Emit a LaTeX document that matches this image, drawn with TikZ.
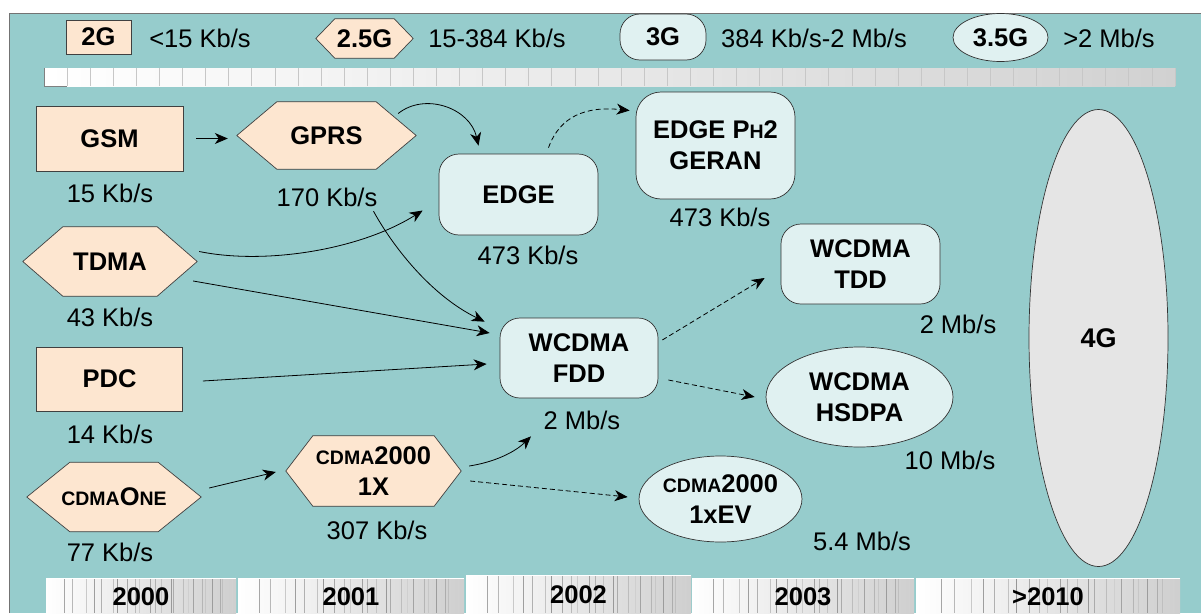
\documentclass[tikz,border=0pt]{standalone}
\usepackage{fontspec}
\setmainfont{Liberation Sans}
\usetikzlibrary{arrows.meta,calc,shapes.geometric}
\definecolor{teal0}{RGB}{150,204,204}
\definecolor{peach}{RGB}{253,230,208}
\definecolor{ice}{RGB}{224,241,241}
\definecolor{ltgray}{RGB}{229,229,229}
\pgfdeclarelayer{bg}
\pgfdeclarelayer{shp}
\pgfsetlayers{bg,shp,main}
\newcommand\smc[1]{{\fontsize{19.5}{20}\selectfont #1}}
\tikzset{
  base/.style={font=\fontsize{25.5}{31}\selectfont, inner sep=0pt, align=center},
  lbl/.style={base, font=\bfseries\fontsize{25.5}{31}\selectfont},
  rectn/.style={lbl, draw=black!75, fill=peach, line width=0.7pt},
  rbox/.style={lbl, draw=black!80, fill=ice, line width=0.7pt, rounded corners=20pt},
  ell/.style={lbl, draw=black!80, fill=ice, line width=0.7pt, ellipse},
  hexn/.style={lbl},
  hexline/.style={draw=black!75, fill=peach, line width=0.7pt},
  arr/.style={-{Stealth[length=13pt,width=11pt,inset=4pt]}, line width=0.8pt, black},
  darr/.style={arr, dash pattern=on 5pt off 3pt},
}
\newcommand\hexshape[2]{%
  \begin{pgfonlayer}{shp}
  \draw[hexline] (#1.west) -- ($(#1.north west)+(#2,0)$) -- ($(#1.north east)+(-#2,0)$)
    -- (#1.east) -- ($(#1.south east)+(-#2,0)$) -- ($(#1.south west)+(#2,0)$) -- cycle;
  \end{pgfonlayer}}
\newcommand\yearseg[5]{%
  \begin{pgfonlayer}{shp}
  \shade[left color=white, right color=black!19] (#2,#4) rectangle (#3,613);
  \foreach \i in {1,...,24}{%
    \pgfmathsetmacro\sx{#2+(#3-#2)*(\i/25)^0.75+2*sin(\i*137)}
    \pgfmathsetmacro\sgray{int(18+mod(\i*17,24))}
    \draw[black!\sgray, line width=0.5pt] (\sx,#4) -- (\sx,613);
  }
  \draw[white, line width=0.8pt] (#2,613) -- (#2,#4) -- (#3,#4);
  \end{pgfonlayer}
  \node[lbl] (#1) at ({(#2+#3)/2},{(#4+613)/2+1}) {#5};
}
\begin{document}
\begin{tikzpicture}[x=1pt,y=-1pt]
\useasboundingbox (0,0) rectangle (1201,613);
\begin{pgfonlayer}{bg}
\fill[white] (0,0) rectangle (1201,613);
\fill[teal0] (9,13) rectangle (1201,613);
\draw[black!55, line width=0.8pt] (9,613) -- (9,13) -- (1201,13);
% top gradient bar
\shade[left color=white, right color=black!18] (44,68) rectangle (1175,86);
\foreach \i in {1,...,49}{\draw[black!22, line width=0.6pt] ({44+\i*23.08},68) -- ({44+\i*23.08},86);}
\draw[black!50, line width=0.6pt] (44,68) -- (44,86) -- (67,86);
\end{pgfonlayer}

% legend
\node[rectn, minimum width=65, minimum height=34] (l2g) at (98.5,37) {2G};
\node[base] (t2g) at (200,38) {<15 Kb/s};
\node[hexn, minimum width=97, minimum height=39] (l25g) at (364.5,38.5) {2.5G};
\hexshape{l25g}{19}
\node[base] (t25g) at (497,38) {15-384 Kb/s};
\node[rbox, minimum width=86, minimum height=46] (l3g) at (663,37) {3G};
\node[base] (t3g) at (814,38) {384 Kb/s-2 Mb/s};
\node[ell, minimum width=95, minimum height=48] (l35g) at (1000.5,37.5) {3.5G};
\node[base] (t35g) at (1109,38) {>2 Mb/s};

% 2G / 2.5G nodes
\node[rectn, minimum width=147, minimum height=65] (gsm) at (109.5,138.5) {GSM};
\node[base] (gsmr) at (110,193) {15 Kb/s};
\node[hexn, minimum width=179, minimum height=67] (gprs) at (326.5,135.5) {GPRS};
\hexshape{gprs}{40}
\node[base] (gprsr) at (327,197) {170 Kb/s};
\node[hexn, minimum width=174, minimum height=69] (tdma) at (110,261.5) {TDMA};
\hexshape{tdma}{40}
\node[base] (tdmar) at (110,317) {43 Kb/s};
\node[rectn, minimum width=146, minimum height=64] (pdc) at (109.5,379) {PDC};
\node[base] (pdcr) at (110,434) {14 Kb/s};
\node[hexn, minimum width=174, minimum height=69] (cdmaone) at (114,497) {\smc{CDMA}O\smc{NE}};
\hexshape{cdmaone}{43}
\node[base] (cdmaoner) at (110,552) {77 Kb/s};
\node[hexn, minimum width=175, minimum height=70] (c2k) at (373.5,471) {\smc{CDMA}2000\\1X};
\hexshape{c2k}{27}
\node[base] (c2kr) at (377,530) {307 Kb/s};

% 3G / 3.5G nodes
\node[rbox, minimum width=159, minimum height=81] (edge) at (518.5,194.5) {EDGE};
\node[base] (edger) at (528,255) {473 Kb/s};
\node[rbox, rounded corners=25pt, minimum width=159, minimum height=107] (ph2) at (715.5,145.5) {EDGE P\smc{H}2\\GERAN};
\node[base] (ph2r) at (720,217) {473 Kb/s};
\node[rbox, minimum width=158, minimum height=80] (fdd) at (579,358) {WCDMA\\FDD};
\node[base] (fddr) at (582,420) {2 Mb/s};
\node[rbox, minimum width=159, minimum height=80] (tdd) at (860.5,264) {WCDMA\\TDD};
\node[base] (tddr) at (958,324) {2 Mb/s};
\node[ell, minimum width=187, minimum height=100] (hsdpa) at (859.5,397) {WCDMA\\HSDPA};
\node[base] (hsdpar) at (950,460) {10 Mb/s};
\node[ell, minimum width=159, minimum height=86] (ev) at (720.5,499) {\smc{CDMA}2000\\1xEV};
\node[base] (evr) at (862,541) {5.4 Mb/s};
\node[ell, fill=ltgray, minimum width=139, minimum height=457, font=\bfseries\fontsize{27}{30}\selectfont] (g4) at (1098.5,338) {4G};

% connectors
\draw[arr] ($(gsm.east)+(13,0)$) -- ($(gprs.west)+(-9,3)$);
\draw[arr] ($(gprs.east)+(-18,-22)$) .. controls (425,92) and (470,108) .. ($(edge.north)+(-40,-8)$);
\draw[arr] ($(tdma.east)+(2,-10)$) .. controls (265,265) and (360,250) .. ($(edge.west)+(-16,16)$);
\draw[arr] ($(gprs.south)+(47,42)$) .. controls (392,245) and (430,295) .. ($(fdd.north west)+(-15,4)$);
\draw[arr] ($(tdma.east)+(-4,19.5)$) -- ($(fdd.west)+(-10,-25)$);
\draw[arr] ($(pdc.east)+(20,2)$) -- ($(fdd.west)+(-13,6)$);
\draw[darr] ($(edge.north)+(30,-6)$) .. controls (560,116) and (586,106) .. ($(ph2.west)+(-6,-35)$);
\draw[darr] ($(fdd.east)+(4,-18)$) -- ($(tdd.west)+(-16,14)$);
\draw[darr] ($(fdd.east)+(10,22)$) -- ($(hsdpa.west)+(-11,0)$);
\draw[arr] ($(cdmaone.east)+(8,-9)$) -- ($(c2k.west)+(-10,1)$);
\draw[arr] ($(c2k.east)+(8,-5)$) .. controls (495,462) and (515,452) .. ($(fdd.south)+(-48,38)$);
\draw[darr] ($(c2k.east)+(9,10)$) -- ($(ev.west)+(-11,-2)$);

% timeline
\yearseg{y2000}{46}{236}{578}{2000}
\yearseg{y2001}{238}{464}{578}{2001}
\yearseg{y2002}{466}{691}{575}{2002}
\yearseg{y2003}{692}{914}{578}{2003}
\yearseg{y2010}{916}{1180}{578}{>2010}
\end{tikzpicture}
\end{document}
